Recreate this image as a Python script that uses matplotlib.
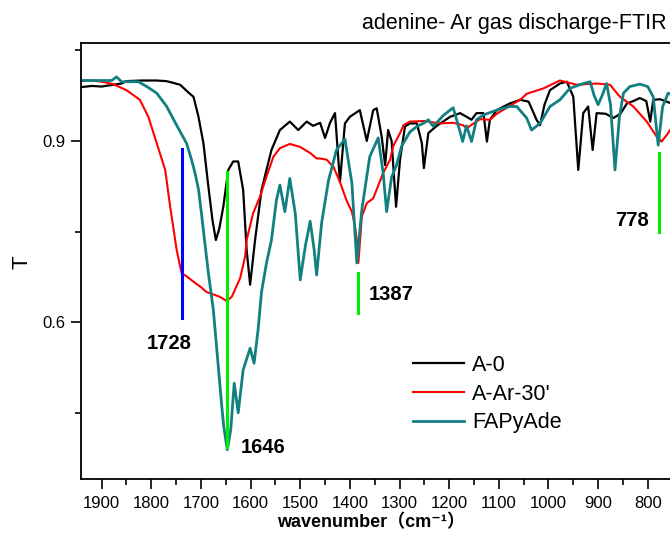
import numpy as np
import matplotlib.pyplot as plt
from matplotlib.ticker import MultipleLocator, FixedLocator

plt.rcParams['font.family'] = ['Liberation Sans', 'DejaVu Sans']

# A-0 (black)
x_a0 = [1942, 1920, 1900, 1877, 1860, 1850, 1820, 1790, 1770, 1760, 1742, 1725, 1715, 1705,
        1695, 1685, 1677, 1670, 1663, 1655, 1645, 1635, 1625, 1615, 1608, 1601, 1591, 1578,
        1558, 1541, 1521, 1504, 1487, 1474, 1460, 1450, 1440, 1430, 1420, 1410, 1400, 1380,
        1366, 1353, 1346, 1336, 1329, 1323, 1316, 1307, 1299, 1289, 1279, 1265, 1255, 1251,
        1242, 1225, 1198, 1178, 1165, 1155, 1145, 1131, 1124, 1118, 1104, 1078, 1057, 1040,
        1024, 1017, 1008, 997, 977, 963, 950, 940, 930, 920, 911, 903, 885, 869, 855, 842,
        829, 816, 803, 795, 789, 775, 762, 745]
y_a0 = [0.989, 0.991, 0.990, 0.993, 0.995, 0.999, 1.0, 1.0, 0.999, 0.997, 0.993, 0.980, 0.973, 0.94,
        0.896, 0.824, 0.77, 0.736, 0.755, 0.791, 0.852, 0.866, 0.866, 0.819, 0.72, 0.662, 0.736, 0.819,
        0.885, 0.918, 0.932, 0.918, 0.932, 0.925, 0.93, 0.905, 0.93, 0.946, 0.832, 0.929, 0.94, 0.951,
        0.90, 0.951, 0.954, 0.907, 0.86, 0.918, 0.90, 0.791, 0.869, 0.924, 0.929, 0.929, 0.896, 0.855,
        0.913, 0.925, 0.94, 0.946, 0.94, 0.935, 0.946, 0.946, 0.899, 0.935, 0.951, 0.962, 0.968, 0.965,
        0.935, 0.926, 0.96, 0.984, 0.995, 0.998, 0.973, 0.852, 0.946, 0.957, 0.885, 0.946, 0.945, 0.938,
        0.945, 0.962, 0.966, 0.971, 0.966, 0.932, 0.968, 0.969, 0.965, 0.96]

# A-Ar-30' (red)
x_ar = [1942, 1920, 1900, 1877, 1850, 1823, 1806, 1789, 1772, 1762, 1749, 1739, 1729, 1715,
        1700, 1689, 1675, 1662, 1648, 1638, 1621, 1611, 1608, 1595, 1581, 1568, 1554, 1541,
        1521, 1500, 1480, 1467, 1460, 1447, 1433, 1420, 1407, 1396, 1390, 1386, 1383, 1379,
        1376, 1366, 1353, 1333, 1319, 1313, 1299, 1292, 1279, 1250, 1219, 1192, 1172, 1165,
        1138, 1118, 1104, 1078, 1057, 1044, 1010, 977, 943, 903, 876, 856, 829, 802, 782, 772,
        759, 745]
y_ar = [1.0, 1.0, 0.998, 0.994, 0.984, 0.968, 0.94, 0.896, 0.852, 0.791, 0.72, 0.681, 0.676, 0.667,
        0.658, 0.65, 0.646, 0.642, 0.635, 0.642, 0.673, 0.709, 0.736, 0.78, 0.808, 0.841, 0.874, 0.888,
        0.895, 0.89, 0.88, 0.871, 0.871, 0.869, 0.857, 0.832, 0.802, 0.783, 0.76, 0.736, 0.698, 0.74,
        0.775, 0.797, 0.805, 0.847, 0.869, 0.891, 0.913, 0.926, 0.932, 0.933, 0.929, 0.93, 0.926, 0.921,
        0.936, 0.935, 0.945, 0.958, 0.968, 0.978, 0.987, 1.0, 0.993, 0.995, 0.993, 0.973, 0.957, 0.932,
        0.907, 0.899, 0.913, 0.93]

# FAPyAde (teal)
x_fa = [1942, 1900, 1880, 1870, 1860, 1826, 1809, 1789, 1769, 1749, 1729, 1719, 1712, 1705,
        1699, 1692, 1685, 1675, 1668, 1658, 1654, 1647, 1640, 1633, 1625, 1615, 1601, 1593,
        1585, 1578, 1568, 1558, 1548, 1541, 1531, 1521, 1510, 1500, 1490, 1480, 1472, 1467,
        1457, 1443, 1427, 1410, 1396, 1386, 1376, 1360, 1343, 1333, 1326, 1316, 1306, 1296,
        1279, 1265, 1250, 1242, 1232, 1212, 1192, 1178, 1173, 1165, 1155, 1145, 1131, 1104,
        1078, 1064, 1044, 1034, 1017, 997, 977, 957, 930, 916, 908, 900, 892, 883, 875, 866,
        857, 849, 836, 816, 800, 789, 779, 770, 759, 745]
y_fa = [1.0, 1.0, 1.0, 1.006, 0.998, 0.998, 0.99, 0.979, 0.957, 0.926, 0.896, 0.869, 0.847, 0.82,
        0.78, 0.73, 0.681, 0.62, 0.554, 0.46, 0.427, 0.389, 0.422, 0.499, 0.45, 0.521, 0.557, 0.532,
        0.587, 0.65, 0.698, 0.736, 0.802, 0.827, 0.783, 0.838, 0.78, 0.67, 0.725, 0.767, 0.72, 0.678,
        0.764, 0.835, 0.885, 0.903, 0.83, 0.698, 0.786, 0.874, 0.905, 0.847, 0.783, 0.84, 0.86, 0.891,
        0.915, 0.924, 0.93, 0.935, 0.924, 0.942, 0.955, 0.915, 0.899, 0.925, 0.899, 0.935, 0.943, 0.951,
        0.957, 0.957, 0.938, 0.918, 0.929, 0.957, 0.968, 0.987, 0.995, 0.998, 0.975, 0.96, 0.975, 0.995,
        0.96, 0.852, 0.94, 0.979, 0.99, 0.994, 0.99, 0.973, 0.893, 0.957, 0.979, 0.975]

# peak markers: position, top, bottom, label, label position, colour
mark_x = [1739, 1647, 1383, 777]
mark_top = [0.886, 0.849, 0.682, 0.88]
mark_bot = [0.607, 0.394, 0.615, 0.75]
mark_lab = ['1728', '1646', '1387', '778']
lab_x = [1764, 1575, 1316, 831]
lab_y = [0.564, 0.393, 0.645, 0.768]
mark_col = ['#0000ff', '#00ee00', '#00ee00', '#00ee00']

xticks = [1900, 1800, 1700, 1600, 1500, 1400, 1300, 1200, 1100, 1000, 900, 800]

fig = plt.figure(figsize=(6.7, 5.39), dpi=100)
ax = fig.add_axes([0.1204, 0.1108, 1.0687, 0.81])

ax.plot(x_a0, y_a0, color='black', lw=1.6, label='A-0')
ax.plot(x_ar, y_ar, color='#ff0000', lw=1.5, label="A-Ar-30'")
ax.plot(x_fa, y_fa, color='#128080', lw=2.0, label='FAPyAde')

for i in range(len(mark_x)):
    ax.plot([mark_x[i], mark_x[i]], [mark_top[i], mark_bot[i]], color=mark_col[i], lw=2.2)
    ax.text(lab_x[i], lab_y[i], mark_lab[i], ha='center', va='center',
            fontsize=14.5, fontweight='bold')

ax.set_xlim(1942.3, 500)
ax.set_ylim(0.34, 1.0626)
ax.xaxis.set_major_locator(FixedLocator(xticks))
ax.xaxis.set_minor_locator(MultipleLocator(50))
ax.yaxis.set_major_locator(MultipleLocator(0.3))
ax.yaxis.set_minor_locator(MultipleLocator(0.15))
ax.tick_params(which='major', direction='out', length=7, width=1.2, labelsize=12, pad=5)
ax.tick_params(which='minor', direction='out', length=4, width=1.2)
ax.tick_params(axis='y', which='major', pad=4)
for s in ax.spines.values():
    s.set_linewidth(1.3)

ax.legend(loc='upper left', bbox_to_anchor=(412.7 / 670, 1 - 355 / 539),
          bbox_transform=fig.transFigure, frameon=False, fontsize=15.5,
          handlelength=2.4, handletextpad=0.35, labelspacing=0.35,
          borderpad=0, borderaxespad=0)

fig.text(362 / 670, 1 - 23 / 539, 'adenine- Ar gas discharge-FTIR', ha='left', va='center',
         fontsize=15.5)
fig.text(22 / 670, 1 - 262 / 539, 'T', rotation=90, ha='center', va='center', fontsize=16)
fig.text(371 / 670, 1 - 523 / 539, 'wavenumber（cm⁻¹）', ha='center', va='center',
         fontsize=13, fontweight='bold',
         family=['Liberation Sans', 'Noto Sans CJK SC', 'DejaVu Sans'])

fig.savefig('out.png', dpi=100)
